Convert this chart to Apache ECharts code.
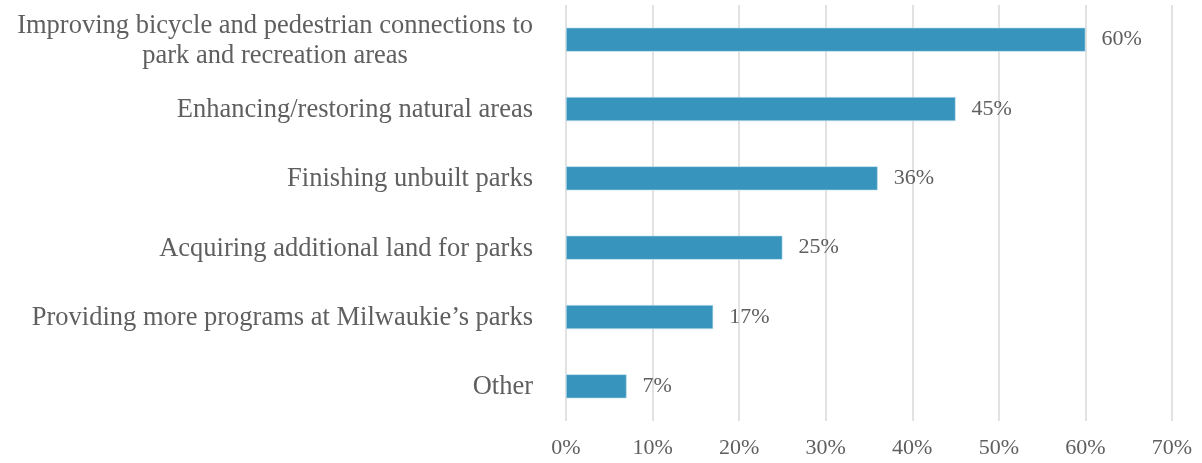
<!DOCTYPE html>
<html>
<head>
<meta charset="utf-8">
<script src="https://cdn.jsdelivr.net/npm/echarts@6/dist/echarts.min.js"></script>
<style>
  html, body { margin: 0; padding: 0; background: #ffffff; }
  #chart { width: 1202px; height: 463px; }
</style>
</head>
<body>
<div id="chart"></div>
<script>
// Survey responses: priorities for park investment (share of respondents)
const categories = [
  'Improving bicycle and pedestrian connections to\npark and recreation areas',
  'Enhancing/restoring natural areas',
  'Finishing unbuilt parks',
  'Acquiring additional land for parks',
  'Providing more programs at Milwaukie\u2019s parks',
  'Other'
];
const shares = [60, 45, 36, 25, 17, 7];
const tickLabels = ['0%', '10%', '20%', '30%', '40%', '50%', '60%', '70%'];

const FONT = '"Liberation Serif", "DejaVu Serif", serif';
const TEXT = '#5f5f5f';
const CAT_SIZE = 26.5;

const chart = echarts.init(document.getElementById('chart'), null, { renderer: 'canvas' });
chart.setOption({
  animation: false,
  backgroundColor: '#ffffff',
  grid: { left: 566, right: 30, top: 5, bottom: 42, containLabel: false },
  xAxis: {
    type: 'value',
    min: 0,
    max: 70,
    interval: 10,
    axisLine: { show: false },
    axisTick: { show: false },
    splitLine: { show: true, lineStyle: { color: '#d9d9d9', width: 1.5 } },
    axisLabel: {
      margin: 16,
      color: TEXT,
      fontFamily: FONT,
      fontSize: 22,
      formatter: (v) => tickLabels[Math.round(v / 10)]
    }
  },
  yAxis: {
    type: 'category',
    inverse: true,
    data: categories,
    axisLine: { show: false },
    axisTick: { show: false },
    axisLabel: {
      margin: 33,
      align: 'right',
      color: TEXT,
      fontFamily: FONT,
      fontSize: CAT_SIZE,
      lineHeight: 30,
      formatter: (v) => v.split('\n').map((line) => '{c|' + line + '}').join('\n'),
      rich: {
        c: {
          align: 'center',
          color: TEXT,
          fontFamily: FONT,
          fontSize: CAT_SIZE,
          lineHeight: 30,
          padding: [2, 0, 0, 0]
        }
      }
    }
  },
  series: [{
    type: 'bar',
    data: shares,
    barWidth: 24,
    itemStyle: { color: '#3794bc', borderColor: '#bfe0ee', borderWidth: 0.6 },
    label: {
      show: true,
      position: 'right',
      distance: 16,
      color: TEXT,
      fontFamily: FONT,
      fontSize: 22,
      formatter: (p) => p.value + '%'
    }
  }]
});
</script>
</body>
</html>
